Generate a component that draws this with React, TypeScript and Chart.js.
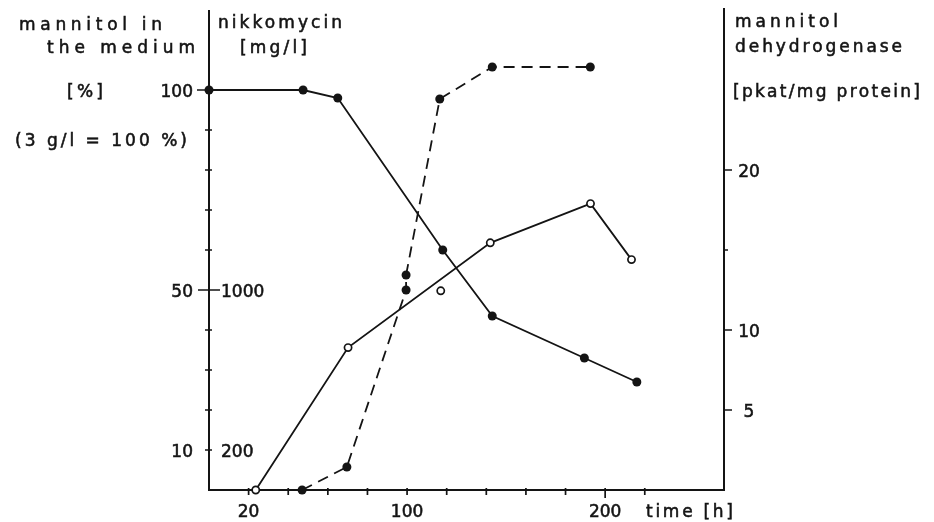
import React, { useEffect, useRef } from "react";
import { Chart, registerables } from "chart.js";

Chart.register(...registerables);

// ---- data ----
const timeMannitol = [0, 47.5, 65, 118, 143, 189.5, 216];
const mannitolPct = [100, 100, 98, 60, 43.5, 33, 27];

const timeNikkomycin = [47, 69.6, 99.5, 99.5, 116.5, 143, 192.5];
const nikkomycinMgL = [0, 115, 1000, 1075, 1955, 2115, 2115];

const timeMDH = [23.6, 70.2, 142, 192.6, 213.3];
const mdhPkat = [0, 8.9, 15.45, 17.9, 14.4];
const timeMDHExtra = [117];
const mdhPkatExtra = [12.45];

// ---- axes ----
const xTicks = [20, 40, 60, 80, 100, 120, 140, 160, 180, 200, 220];
const xTickLabels = [20, 100, 200];
const mannitolTicks = [10, 20, 30, 40, 50, 60, 70, 80, 90, 100];
const mannitolTickLabels = [10, 50, 100];
const nikkomycinTickLabels = [200, 1000];
const mdhTicks = [5, 10, 15, 20];
const mdhTickLabels = [5, 10, 20];

const leftTitle = ["mannitol in", "the medium", "[%]", "(3 g/l = 100 %)"];
const nikkoTitle = ["nikkomycin", "[mg/l]"];
const rightTitle = ["mannitol", "dehydrogenase", "[pkat/mg protein]"];
const xTitle = "time [h]";

const INK = "#141414";
const FONT = '17px "DejaVu Sans", sans-serif';

const pts = (xs: number[], ys: number[]) => xs.map((x, i) => ({ x, y: ys[i] }));

function inkText(ctx: CanvasRenderingContext2D, text: string, x: number, y: number) {
  ctx.fillText(text, x, y);
  ctx.strokeText(text, x, y);
}

function fitText(ctx: CanvasRenderingContext2D, text: string, x: number, y: number, width: number) {
  (ctx as any).letterSpacing = "0px";
  const w = ctx.measureText(text).width;
  const n = Array.from(text).length;
  const ls = n > 1 ? (width - w) / (n - 1) : 0;
  (ctx as any).letterSpacing = `${ls}px`;
  ctx.textAlign = "left";
  inkText(ctx, text, x, y);
  (ctx as any).letterSpacing = "0px";
}

const paperAxes = {
  id: "paperAxes",
  beforeDatasetsDraw(chart: any) {
    const { ctx, chartArea } = chart;
    const sx = chart.scales.x;
    const sm = chart.scales.yM;
    const se = chart.scales.yE;
    const L = chartArea.left;
    const R = chartArea.right;
    const B = chartArea.bottom;
    ctx.save();
    ctx.strokeStyle = INK;
    ctx.lineWidth = 2;
    ctx.lineCap = "butt";
    ctx.beginPath();
    ctx.moveTo(L, chartArea.top);
    ctx.lineTo(L, B);
    ctx.lineTo(R, B);
    ctx.moveTo(R, chartArea.top - 2);
    ctx.lineTo(R, B + 1);
    ctx.stroke();

    ctx.lineWidth = 1.7;
    ctx.beginPath();
    mannitolTicks.forEach((v) => {
      const y = sm.getPixelForValue(v);
      if (v === 100) {
        ctx.moveTo(L - 12, y);
        ctx.lineTo(L, y);
      } else if (v === 50) {
        ctx.moveTo(L - 11, y);
        ctx.lineTo(L + 11, y);
      } else {
        ctx.moveTo(L - 4, y);
        ctx.lineTo(L + 3, y);
      }
    });
    mdhTicks.forEach((v) => {
      const y = se.getPixelForValue(v);
      ctx.moveTo(R, y);
      ctx.lineTo(R + (v === 15 ? 4 : 8), y);
    });
    xTicks.forEach((v) => {
      const x = sx.getPixelForValue(v);
      ctx.moveTo(x, B - 2);
      ctx.lineTo(x, B + (v === 200 ? 8 : 5));
    });
    ctx.stroke();
    ctx.restore();
  },
  afterDraw(chart: any) {
    const { ctx, chartArea } = chart;
    const sx = chart.scales.x;
    const sm = chart.scales.yM;
    const sn = chart.scales.yN;
    const se = chart.scales.yE;
    const L = chartArea.left;
    const R = chartArea.right;
    const B = chartArea.bottom;
    ctx.save();
    ctx.fillStyle = INK;
    ctx.strokeStyle = INK;
    ctx.lineWidth = 0.55;
    ctx.font = FONT;
    ctx.textBaseline = "alphabetic";

    ctx.textAlign = "right";
    mannitolTickLabels.forEach((v) => {
      inkText(ctx, String(v), L - 16, sm.getPixelForValue(v) + 6.5);
    });
    ctx.textAlign = "left";
    nikkomycinTickLabels.forEach((v) => {
      inkText(ctx, String(v), L + 12, sn.getPixelForValue(v) + 6.5);
    });
    ctx.textAlign = "center";
    mdhTickLabels.forEach((v) => {
      inkText(ctx, String(v), R + 25, se.getPixelForValue(v) + 6.5);
    });
    xTickLabels.forEach((v) => {
      inkText(ctx, String(v), sx.getPixelForValue(v), B + 27);
    });

    // axis titles
    fitText(ctx, leftTitle[0], 19, 30, 143);
    fitText(ctx, leftTitle[1], 47, 53, 148);
    fitText(ctx, leftTitle[2], 67, 97, 36);
    fitText(ctx, leftTitle[3], 15, 146, 172);
    fitText(ctx, nikkoTitle[0], L + 9, 28, 124);
    fitText(ctx, nikkoTitle[1], L + 31, 53, 67);
    fitText(ctx, rightTitle[0], R + 11, 27, 103);
    fitText(ctx, rightTitle[1], R + 11, 52, 167);
    fitText(ctx, rightTitle[2], R + 9, 97, 187);
    fitText(ctx, xTitle, 646, B + 27, 87);
    ctx.restore();
  },
};

export default function App() {
  const ref = useRef<HTMLCanvasElement | null>(null);

  useEffect(() => {
    if (!ref.current) return;
    const filled = {
      pointRadius: 4.5,
      pointBackgroundColor: INK,
      pointBorderColor: INK,
      pointBorderWidth: 0,
      borderColor: INK,
      borderWidth: 1.8,
      showLine: true,
      tension: 0,
      clip: false as any,
      fill: false,
    };
    const open = {
      pointRadius: 3.6,
      pointBackgroundColor: "#ffffff",
      pointBorderColor: INK,
      pointBorderWidth: 1.7,
      borderColor: INK,
      borderWidth: 1.8,
      tension: 0,
      clip: false as any,
      fill: false,
    };
    const chart = new Chart(ref.current, {
      type: "line",
      data: {
        datasets: [
          { label: "mannitol in the medium [%]", data: pts(timeMannitol, mannitolPct), yAxisID: "yM", ...filled },
          {
            label: "nikkomycin [mg/l]",
            data: pts(timeNikkomycin, nikkomycinMgL),
            yAxisID: "yN",
            ...filled,
            borderDash: [11, 7],
          },
          { label: "mannitol dehydrogenase [pkat/mg protein]", data: pts(timeMDH, mdhPkat), yAxisID: "yE", ...open },
          {
            label: "mannitol dehydrogenase (single)",
            data: pts(timeMDHExtra, mdhPkatExtra),
            yAxisID: "yE",
            ...open,
            showLine: false,
          },
        ],
      },
      options: {
        responsive: false,
        animation: false,
        events: [],
        layout: { padding: { left: 209, right: 210, top: 10, bottom: 32 } },
        plugins: { legend: { display: false }, tooltip: { enabled: false } },
        scales: {
          x: { type: "linear", min: 0, max: 260, display: false },
          yM: { type: "linear", min: 0, max: 120, display: false },
          yN: { type: "linear", min: 0, max: 2400, display: false },
          yE: { type: "linear", min: 0, max: 30, display: false },
        },
      },
      plugins: [paperAxes],
    });
    return () => chart.destroy();
  }, []);

  return (
    <div style={{ position: "fixed", left: 0, top: 0, width: 934, height: 522, background: "#fff" }}>
      <canvas ref={ref} width={934} height={522} style={{ display: "block", width: 934, height: 522 }} />
    </div>
  );
}
